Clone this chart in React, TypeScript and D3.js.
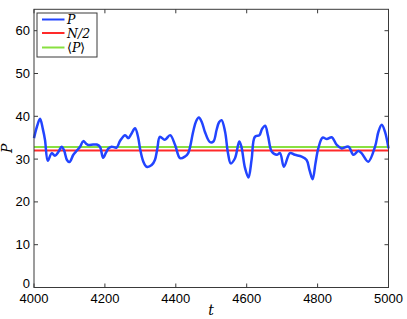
import React from "react"
import * as d3 from "d3"

// time samples of P(t)
const times = [
  4000, 4008, 4017, 4025, 4031, 4039, 4050, 4059, 4069, 4078, 4085, 4093, 4100,
  4111, 4121, 4130, 4139, 4147, 4153, 4167, 4177, 4186, 4195, 4203, 4210, 4219,
  4233, 4243, 4257, 4266, 4274, 4285, 4294, 4299, 4308, 4318, 4332, 4341, 4348,
  4355, 4369, 4384, 4398, 4412, 4426, 4435, 4449, 4457, 4465, 4474, 4482, 4496,
  4506, 4515, 4522, 4529, 4539, 4547, 4555, 4567, 4579, 4585, 4595, 4605, 4614,
  4623, 4636, 4643, 4652, 4660, 4671, 4685, 4694, 4705, 4722, 4736, 4755, 4769,
  4777, 4786, 4794, 4802, 4814, 4826, 4840, 4854, 4868, 4887, 4901, 4915, 4924,
  4943, 4962, 4972, 4981, 4990, 5000,
]
const pValues = [
  34.9, 37.5, 39.4, 37.0, 34.5, 29.6, 31.4, 30.8, 31.7, 32.9, 32.0, 29.8, 29.3,
  31.0, 32.0, 32.9, 34.2, 33.6, 33.3, 33.4, 33.4, 32.9, 30.3, 31.5, 32.5, 32.9,
  32.7, 34.3, 35.6, 34.9, 35.8, 37.2, 35.0, 32.5, 29.5, 28.2, 28.6, 29.8, 32.5,
  35.2, 34.5, 35.6, 33.3, 30.2, 30.6, 31.4, 36.4, 38.8, 39.7, 38.5, 36.4, 34.0,
  34.1, 36.8, 38.6, 39.1, 36.4, 31.5, 29.0, 30.2, 34.1, 32.9, 28.0, 25.7, 30.0,
  35.2, 35.6, 37.0, 37.8, 35.5, 31.7, 31.0, 31.4, 28.2, 31.4, 31.0, 30.6, 29.8,
  27.5, 25.3, 29.0, 32.5, 35.0, 34.7, 35.1, 33.3, 32.5, 32.9, 31.0, 31.9, 31.4,
  29.4, 32.9, 36.5, 38.0, 36.4, 32.5,
]
const halfN = 32
const meanP = 32.8

const xTicks = [4000, 4200, 4400, 4600, 4800, 5000]
const yTicks = [0, 10, 20, 30, 40, 50, 60]

const legendItems = [
  { label: "P", color: "#2244ff" },
  { label: "N/2", color: "#ff2a2a" },
  { label: "P", color: "#88e040", brackets: true },
]

export default function App() {
  const W = 407
  const H = 319
  const left = 34, right = 388.5, top = 9.3, bottom = 287.5

  const x = d3.scaleLinear().domain([4000, 5000]).range([left, right])
  const y = d3.scaleLinear().domain([0, 65]).range([bottom, top])

  const pts = times.map((t, i) => [t, pValues[i]] as [number, number])
  const line = d3
    .line<[number, number]>()
    .x((d) => x(d[0]))
    .y((d) => y(d[1]))
    .curve(d3.curveCatmullRom.alpha(0.5))

  const axisCol = "#3a3a3a"
  const tickFont = "Liberation Sans, Arial, sans-serif"
  const mathFont = "DejaVu Serif, Liberation Serif, serif"

  return (
    <svg
      width={W}
      height={H}
      style={{ position: "absolute", left: 0, top: 0, background: "#fff" }}
    >
      {/* reference lines */}
      <line x1={left} x2={right} y1={y(halfN)} y2={y(halfN)} stroke="#ff2a2a" strokeWidth={2} />
      <line x1={left} x2={right} y1={y(meanP)} y2={y(meanP)} stroke="#88e040" strokeWidth={2} />
      {/* P(t) */}
      <path d={line(pts) || ""} fill="none" stroke="#2244ff" strokeWidth={2.5} strokeLinejoin="round" />

      {/* axes box */}
      <rect x={left} y={top} width={right - left} height={bottom - top} fill="none" stroke={axisCol} strokeWidth={1} />
      {xTicks.map((t) => (
        <g key={"x" + t}>
          <line x1={x(t)} x2={x(t)} y1={bottom} y2={bottom - 4} stroke={axisCol} />
          <line x1={x(t)} x2={x(t)} y1={top} y2={top + 4} stroke={axisCol} />
          <text x={x(t)} y={bottom + 15.5} fontSize={13} fontFamily={tickFont} textAnchor="middle">
            {t}
          </text>
        </g>
      ))}
      {yTicks.map((v) => (
        <g key={"y" + v}>
          <line x1={left} x2={left + 4} y1={y(v)} y2={y(v)} stroke={axisCol} />
          <line x1={right} x2={right - 4} y1={y(v)} y2={y(v)} stroke={axisCol} />
          <text x={left - 4} y={y(v) + (v === 0 ? 0.5 : 4.5)} fontSize={13} fontFamily={tickFont} textAnchor="end">
            {v}
          </text>
        </g>
      ))}

      {/* axis labels */}
      <text x={211} y={315} fontSize={14} fontStyle="italic" fontFamily={mathFont} textAnchor="middle">
        t
      </text>
      <text
        transform={`translate(12,${(top + bottom) / 2}) rotate(-90)`}
        fontSize={14}
        fontStyle="italic"
        fontFamily={mathFont}
        textAnchor="middle"
      >
        P
      </text>

      {/* legend */}
      <rect x={37} y={13} width={60} height={44} fill="#fff" stroke={axisCol} strokeWidth={1} />
      {legendItems.map((d, i) => {
        const ly = [19.5, 33, 47.5][i]
        return (
          <g key={d.label + i}>
            <line x1={42} x2={64.5} y1={ly} y2={ly} stroke={d.color} strokeWidth={2} />
            <text x={67} y={ly + 4.5} fontSize={12.5} fontFamily={mathFont}>
              {d.brackets ? (
                <>
                  <tspan fontFamily="DejaVu Sans, sans-serif" fontWeight={200}>{"\u27e8"}</tspan>
                  <tspan fontStyle="italic">{d.label}</tspan>
                  <tspan fontFamily="DejaVu Sans, sans-serif" fontWeight={200}>{"\u27e9"}</tspan>
                </>
              ) : (
                <tspan fontStyle="italic">{d.label}</tspan>
              )}
            </text>
          </g>
        )
      })}
    </svg>
  )
}
